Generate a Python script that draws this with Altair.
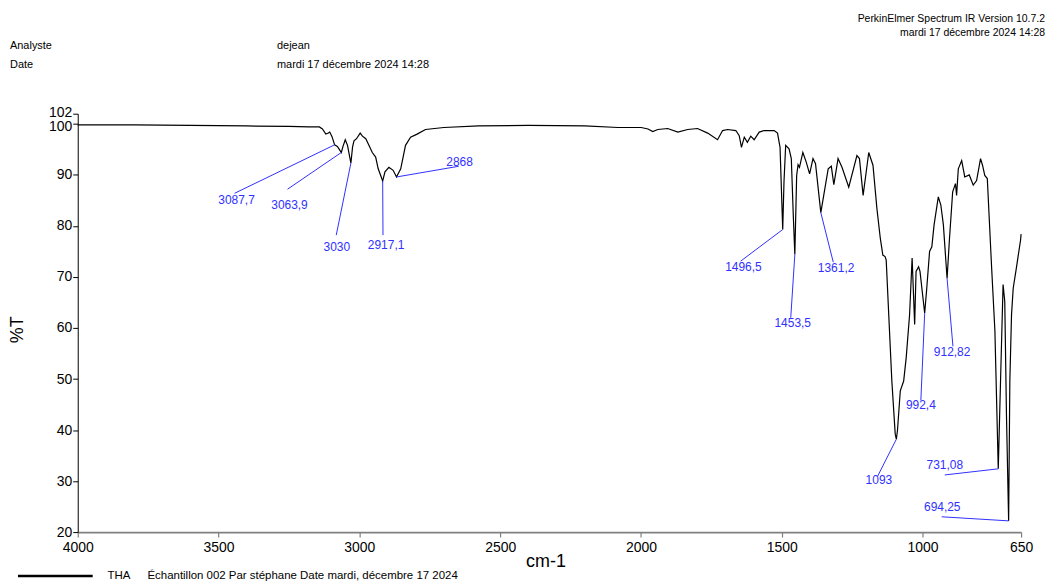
import altair as alt
import pandas as pd

# ---------------- data ----------------
wavenumber = [4000, 3800, 3600, 3400, 3250, 3180, 3142, 3131, 3119, 3110, 3105, 3097,
              3087.7, 3078, 3070, 3063.9, 3058, 3050, 3042, 3030, 3024, 3019, 3010,
              2997, 2989, 2977, 2966, 2954, 2942, 2933, 2917.1, 2909, 2895, 2880, 2868,
              2853, 2836, 2818, 2795, 2765, 2700, 2576, 2400, 2200, 2081, 1999, 1975,
              1958, 1940, 1905, 1869, 1834, 1799, 1763, 1728, 1710, 1692, 1663, 1651,
              1643, 1633, 1622, 1610, 1598, 1580, 1563, 1527, 1515, 1506, 1496.5, 1492,
              1486, 1474, 1466, 1459, 1453.5, 1447, 1442, 1437, 1425, 1413, 1401, 1389,
              1380, 1361.2, 1350, 1335, 1324, 1315, 1300, 1286, 1262, 1233, 1224, 1211,
              1191, 1176, 1162, 1150, 1141, 1133, 1129, 1120, 1109, 1097, 1093, 1089,
              1079, 1067, 1058, 1046, 1037, 1028, 1023, 1014, 1009, 992.4, 985, 975, 967,
              959, 944, 935, 926, 912.82, 905, 893, 883, 879, 873, 861, 850, 834, 820,
              808, 794, 787, 779, 770, 755, 743, 731.08, 723, 714, 708, 702, 694.25, 690,
              684, 678, 667, 652, 650]
transmittance = [99.8, 99.8, 99.7, 99.6, 99.5, 99.4, 99.4, 99.0, 98.0, 98.2, 98.4, 97.5,
                 95.9, 95.6, 94.9, 94.4, 95.6, 96.9, 95.8, 92.3, 95.5, 96.7, 97.1,
                 98.2, 97.6, 97.1, 95.8, 94.4, 93.5, 91.2, 88.8, 90.6, 91.5, 90.9, 89.6,
                 91.2, 95.8, 97.4, 98.0, 98.9, 99.3, 99.6, 99.7, 99.6, 99.3, 99.3, 99.0,
                 98.5, 98.9, 99.1, 98.4, 98.9, 99.1, 98.2, 96.9, 98.7, 98.9, 98.7, 97.7,
                 95.4, 97.4, 96.4, 97.6, 96.9, 98.4, 98.7, 98.7, 98.2, 95.4, 79.3, 88.6,
                 95.8, 95.1, 93.2, 82.1, 74.4, 89.9, 92.0, 91.5, 94.4, 92.5, 90.2, 93.2,
                 92.2, 82.6, 86.3, 91.2, 91.7, 88.1, 93.2, 91.5, 87.6, 93.8, 93.2, 86.0,
                 94.4, 91.9, 83.4, 77.6, 74.3, 74.0, 73.3, 62.6, 49.6, 39.2, 38.2, 39.9,
                 47.7, 49.6, 54.2, 62.6, 73.7, 60.7, 71.1, 72.0, 71.1, 62.9, 67.8, 75.0, 75.9,
                 80.2, 85.7, 84.1, 80.2, 69.7, 76.9, 86.7, 88.3, 86.0, 91.2, 92.8, 89.6, 90.0, 88.0,
                 88.9, 93.2, 91.9, 89.9, 89.3, 72.2, 59.4, 32.4, 49.6, 68.5, 65.2, 43.1, 22.2, 49.6,
                 62.6, 67.8, 71.7, 77.2, 78.4]

peak_labels = ["3087,7", "3063,9", "3030", "2917,1", "2868", "1496,5", "1453,5",
               "1361,2", "1093", "992,4", "912,82", "731,08", "694,25"]
peak_wn = [3087.7, 3063.9, 3030, 2917.1, 2868, 1496.5, 1453.5, 1361.2, 1093, 992.4,
           912.82, 731.08, 694.25]
peak_T = [95.9, 94.4, 92.3, 88.8, 89.6, 79.3, 74.4, 82.6, 38.2, 62.9, 69.7, 32.4, 22.2]
# where each label text sits (wavenumber, %T)
text_wn = [3436, 3248, 3080, 2905, 2644, 1636, 1461, 1307, 1155, 1006, 895, 921, 930]
text_T = [85.0, 84.2, 75.9, 76.2, 92.6, 72.0, 60.9, 71.8, 30.2, 44.9, 55.3, 33.1, 25.0]
# where each leader line leaves the label
lead_wn = [3443, 3255, 3082, 2916, 2647, 1646, 1468, 1317, 1160, 1006, 892, 921, 932]
lead_T = [86.4, 87.2, 78.2, 78.2, 91.7, 73.1, 62.0, 72.9, 30.9, 45.8, 56.4, 31.2, 23.0]

x_ticks = [4000, 3500, 3000, 2500, 2000, 1500, 1000, 650]
y_ticks = [20, 30, 40, 50, 60, 70, 80, 90, 100, 102]

FONT = "Liberation Sans"
BLUE = "#3030ff"

spec = pd.DataFrame({"wn": wavenumber, "T": transmittance})
peaks = pd.DataFrame({"label": peak_labels, "pw": peak_wn, "pt": peak_T,
                      "tw": text_wn, "tt": text_T, "lw": lead_wn, "lt": lead_T})

xscale = alt.Scale(domain=[650, 4000], reverse=True, nice=False, zero=False)
yscale = alt.Scale(domain=[20, 102], nice=False, zero=False)

xaxis = alt.Axis(values=x_ticks, format="d", title=None, grid=False,
                 domainColor="#808080", domainWidth=1.6, tickColor="#808080",
                 tickWidth=1.2, tickSize=5, labelFontSize=14, labelFont=FONT,
                 labelColor="black", labelPadding=3, labelFlush=False,
                 labelOverlap=False)
yaxis = alt.Axis(values=y_ticks, format="d", title=None, grid=False,
                 domainColor="black", domainWidth=1, tickColor="black",
                 tickSize=5, labelFontSize=14, labelFont=FONT, labelColor="black",
                 labelPadding=1, labelFlush=False, labelOverlap=False,
                 labelOffset={"condition": [
                     {"test": "datum.value === 100", "value": 3},
                     {"test": "datum.value === 102", "value": -1.5}],
                     "value": 0})

line = alt.Chart(spec).mark_line(color="black", strokeWidth=1.2).encode(
    x=alt.X("wn:Q", scale=xscale, axis=xaxis),
    y=alt.Y("T:Q", scale=yscale, axis=yaxis),
)

leaders = alt.Chart(peaks).mark_rule(color=BLUE, strokeWidth=1).encode(
    x=alt.X("lw:Q", scale=xscale),
    y=alt.Y("lt:Q", scale=yscale),
    x2="pw:Q",
    y2="pt:Q",
)

labels = alt.Chart(peaks).mark_text(color=BLUE, font=FONT, fontSize=12,
                                    baseline="middle", align="center").encode(
    x=alt.X("tw:Q", scale=xscale),
    y=alt.Y("tt:Q", scale=yscale),
    text="label:N",
)


def note(s, x, y, size=11, align="left", angle=0):
    return alt.Chart(pd.DataFrame({"t": [s]})).mark_text(
        font=FONT, fontSize=size, align=align, baseline="middle", color="black",
        angle=angle).encode(x=alt.value(x), y=alt.value(y), text="t:N")


notes = [
    note("PerkinElmer Spectrum IR Version 10.7.2", 971, -95, 10.5, "right"),
    note("mardi 17 décembre 2024 14:28", 971, -81, 10.5, "right"),
    note("Analyste", -68, -68, 11),
    note("dejean", 200, -68, 11),
    note("Date", -68, -49, 11),
    note("mardi 17 décembre 2024 14:28", 200, -49, 11),
    note("%T", -60, 217, 18, "center", 270),
    note("cm-1", 470, 450, 18, "center"),
    note("THA", 30, 464, 11.5),
    note("Échantillon 002 Par stéphane Date mardi, décembre 17 2024", 70, 464, 11.5),
]

legend_line = alt.Chart(pd.DataFrame({"k": [0]})).mark_rule(
    color="black", strokeWidth=2.5).encode(
    x=alt.value(-60), x2=alt.value(15), y=alt.value(464))

chart = alt.layer(line, leaders, labels, legend_line, *notes).properties(
    width=947, height=420,
    autosize=alt.AutoSizeParams(type="none"),
    padding={"left": 70, "top": 105, "right": 25, "bottom": 51},
).configure_view(stroke=None)

chart.save("out.html", embed_options={"renderer": "svg", "actions": False})
